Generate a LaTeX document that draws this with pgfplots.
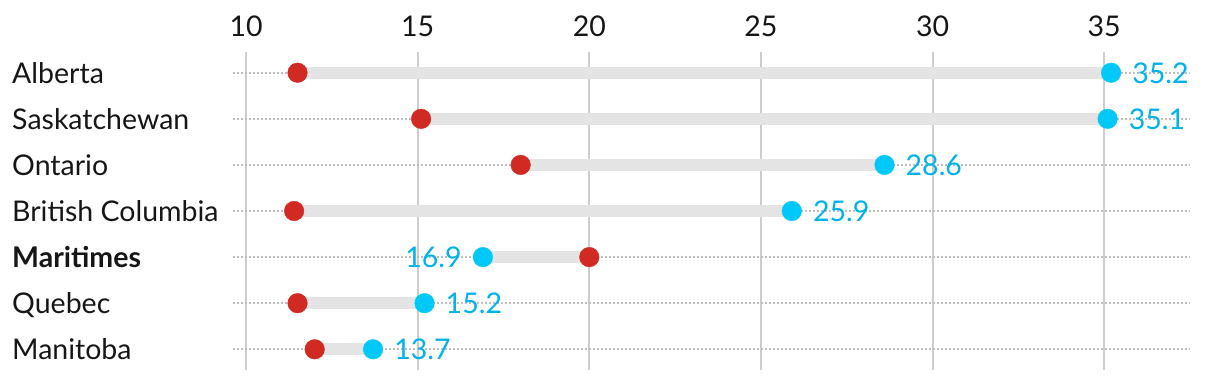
\documentclass[border=0pt]{standalone}
\usepackage{pgfplots}
\pgfplotsset{compat=1.18}
\usepackage{pgfplotstable}
\usepackage{fontspec}
\setmainfont{Lato}
\definecolor{dotred}{HTML}{D02A22}
\definecolor{dotblue}{HTML}{00C8F8}
\definecolor{labblue}{HTML}{00B2EC}
\definecolor{bargray}{HTML}{E4E4E4}
\definecolor{gridgray}{HTML}{CDCDCD}
\definecolor{dotgray}{HTML}{BDBDBD}
\definecolor{txt}{HTML}{161616}

\pgfplotstableread{
row red blue lab
0 11.5 35.2 35.2
1 15.1 35.1 35.1
2 18.0 28.6 28.6
3 11.4 25.9 25.9
5 11.5 15.2 15.2
6 12.0 13.7 13.7
}\mainrows
\pgfplotstableread{
row red blue lab
4 20.0 16.9 16.9
}\maritimes

\begin{document}
\begin{tikzpicture}
\begin{axis}[
  at={(233pt,10pt)}, anchor=south west,
  scale only axis, width=957pt, height=318pt,
  xmin=9.62, xmax=37.5, ymin=-0.45, ymax=6.45, y dir=reverse,
  clip=false,
  axis line style={draw=none},
  major tick length=0pt,
  xtick={10,15,20,25,30,35},
  xticklabel pos=upper,
  /pgf/number format/assume math mode=true,
  xticklabel style={anchor=base, yshift=16pt, inner sep=0pt, text=txt, font=\fontsize{28.5}{32}\selectfont},
  ytick={0,1,2,3,4,5,6},
  yticklabels={Alberta,Saskatchewan,Ontario,British Columbia,\textbf{Maritimes},Quebec,Manitoba},
  yticklabel style={anchor=base west, xshift=-221pt, yshift=-10.5pt, inner sep=0pt, text=txt, font=\fontsize{28.5}{32}\selectfont},
  xmajorgrids, ymajorgrids,
  x grid style={gridgray, line width=2pt},
  y grid style={dotgray, line width=2pt, dash pattern=on 2pt off 2pt},
]
% bars
\addplot[bargray, line width=12pt] coordinates {(11.5,0) (35.2,0)};
\addplot[bargray, line width=12pt] coordinates {(15.1,1) (35.1,1)};
\addplot[bargray, line width=12pt] coordinates {(18.0,2) (28.6,2)};
\addplot[bargray, line width=12pt] coordinates {(11.4,3) (25.9,3)};
\addplot[bargray, line width=12pt] coordinates {(20.0,4) (16.9,4)};
\addplot[bargray, line width=12pt] coordinates {(11.5,5) (15.2,5)};
\addplot[bargray, line width=12pt] coordinates {(12.0,6) (13.7,6)};
% red dots
\addplot[only marks, mark=*, mark size=9.8pt, dotred, mark options={draw=none, fill=dotred}] table[x=red, y=row] {\mainrows};
\addplot[only marks, mark=*, mark size=9.8pt, dotred, mark options={draw=none, fill=dotred}] table[x=red, y=row] {\maritimes};
% blue dots with labels
\addplot[only marks, mark=*, mark size=9.8pt, dotblue, mark options={draw=none, fill=dotblue},
  nodes near coords, point meta=explicit symbolic,
  nodes near coords style={anchor=base west, xshift=21pt, yshift=-10.5pt, inner sep=0pt, text=labblue, font=\fontsize{28.5}{32}\selectfont}]
  table[x=blue, y=row, meta=lab] {\mainrows};
\addplot[only marks, mark=*, mark size=9.8pt, dotblue, mark options={draw=none, fill=dotblue},
  nodes near coords, point meta=explicit symbolic,
  nodes near coords style={anchor=base east, xshift=-21pt, yshift=-10.5pt, inner sep=0pt, text=labblue, font=\fontsize{28.5}{32}\selectfont}]
  table[x=blue, y=row, meta=lab] {\maritimes};
\end{axis}
\pgfresetboundingbox
\path (0,0) rectangle (1220pt,380pt);
\end{tikzpicture}
\end{document}
